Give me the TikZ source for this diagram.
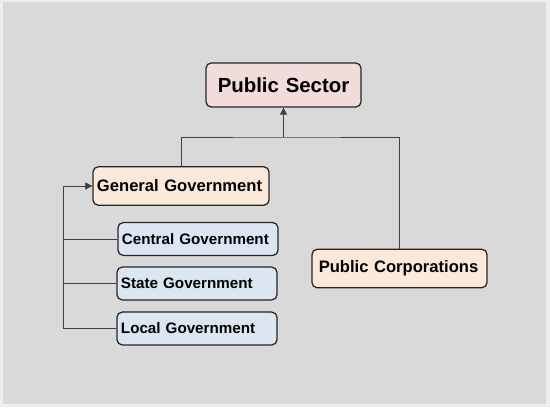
\documentclass[tikz,border=0pt]{standalone}
\usepackage{fontspec}
\setmainfont{Liberation Sans}
\usetikzlibrary{arrows.meta}
\definecolor{bgouter}{HTML}{EEEEEE}
\definecolor{bginner}{HTML}{D9D9D9}
\definecolor{sectorfill}{HTML}{F2DCDB}
\definecolor{peachfill}{HTML}{FDE9D9}
\definecolor{bluefill}{HTML}{DCE6F2}
\definecolor{linecol}{HTML}{404040}
\begin{document}
\begin{tikzpicture}[x=0.025cm,y=-0.025cm,
box/.style={draw=black!85,line width=0.9pt,rounded corners=0.13cm,inner xsep=0.1cm,inner ysep=0pt,align=left,font=\bfseries},
top box/.style={box,fill=sectorfill,text width=3.675cm,minimum height=1.1cm,align=center,font=\bfseries\fontsize{14.5}{16}\selectfont},
mid box/.style={box,fill=peachfill,minimum height=0.96cm,font=\bfseries\fontsize{11.8}{14}\selectfont},
sub box/.style={box,fill=bluefill,text width=3.8cm,minimum height=0.82cm,font=\bfseries\fontsize{10.8}{13}\selectfont},
link/.style={draw=linecol,line width=0.6pt}]
% background
\fill[bgouter] (0,0) rectangle (550,407);
\fill[bginner] (3,2) rectangle (546,404);
\node[top box] (ps) at (283.5,85) {Public Sector};
\node[mid box,text width=4.2cm] (gg) at (181,186) {General Government};
\node[mid box,text width=4.035cm,inner xsep=0.17cm] (pc) at (399.5,268.5) {Public Corporations};
\node[sub box] (cg) at (198,239) {Central Government};
\node[sub box] (sg) at (197,283.5) {State Government};
\node[sub box] (lg) at (197,328.5) {Local Government};

\coordinate (bus) at (283.5,137);
\coordinate (rail) at (63,186);

\draw[link] (gg.north) |- (bus) -| (pc.north);
\draw[link,-{Triangle[length=5pt,width=5pt]}] (bus) -- (ps.south);
\draw[link,-{Triangle[length=5pt,width=5pt]}] (lg.west) -| (rail) -- (gg.west);
\draw[link] (cg.west) -- (cg.west -| rail);
\draw[link] (sg.west) -- (sg.west -| rail);

\end{tikzpicture}
\end{document}
